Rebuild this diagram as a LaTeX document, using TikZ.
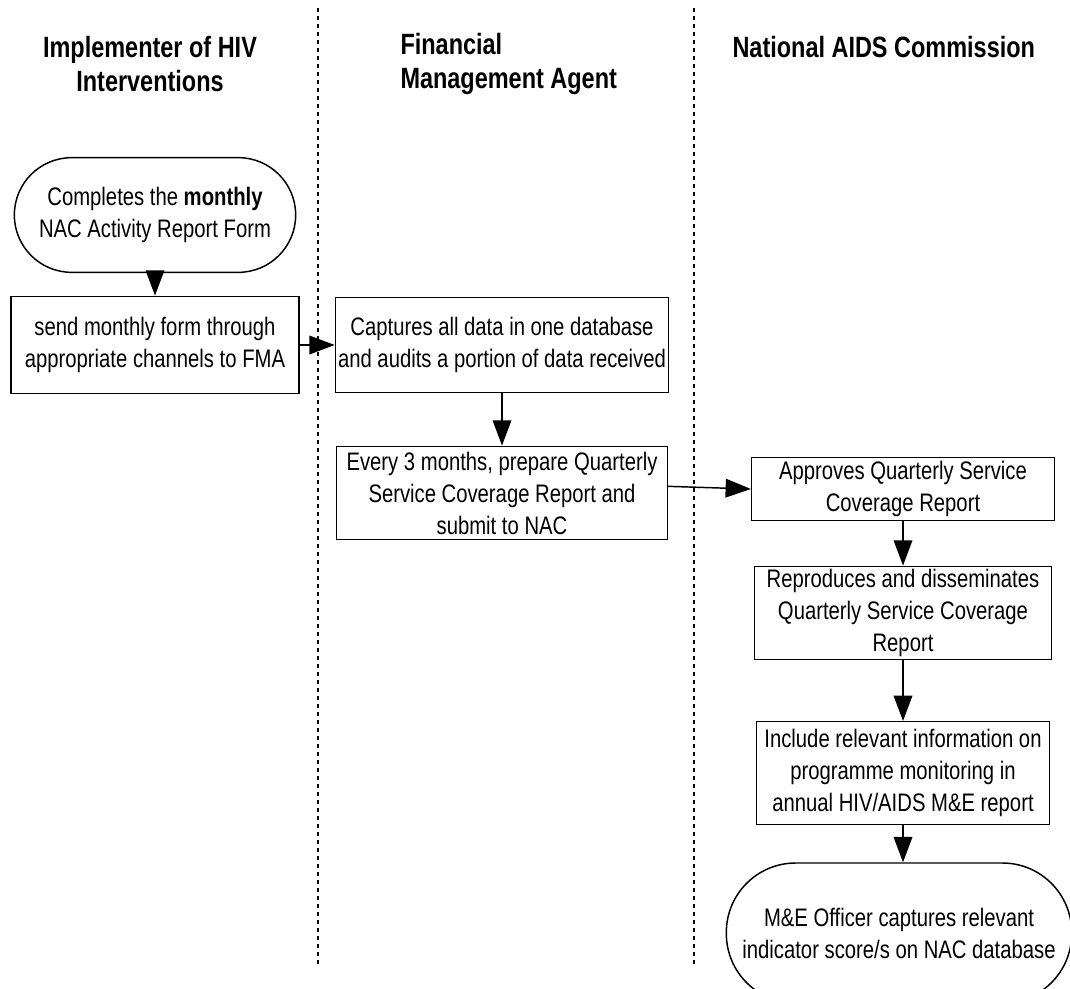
\documentclass[tikz,border=0pt]{standalone}
\usepackage{fontspec}
\setmainfont{Liberation Sans}[FakeStretch=0.8]
\usetikzlibrary{arrows.meta}

\tikzset{every picture/.style={line width=0.75pt}}
\tikzset{
  stepbox/.style={draw, line width=1.1pt, align=center, inner sep=2pt, font=\fontsize{19}{24}\selectfont},
  endbox/.style={stepbox, rounded corners=#1},
  lane/.style={font=\bfseries\fontsize{22}{26}\selectfont, inner sep=0pt},
  flow/.style={line width=1.1pt, -{Triangle[length=19pt,width=14pt]}},
  divider/.style={line width=0.9pt, dash pattern=on 3pt off 3pt}
}

\begin{document}
\begin{tikzpicture}[x=0.75pt,y=0.75pt,yscale=-1,xscale=1]
\useasboundingbox (0,0) rectangle (1070,988);

% lane dividers
\draw [divider] (318,8) -- (318,965);
\draw [divider] (694,8) -- (694,965);

% lane headings
\node [lane, align=center] (impl) at (150,64) {Implementer of HIV\\Interventions};
\node [lane, align=left, anchor=west] (fma) at (400,64) {Financial\\Management Agent};
\node [lane, anchor=west] (nac) at (732,47) {National AIDS Commission};

% implementer
\node [endbox=43pt, minimum width=211pt, minimum height=86pt] (start) at (155,215) {Completes the \textbf{monthly}\\NAC Activity Report Form};
\node [stepbox, minimum width=216pt, minimum height=73pt] (send) at (155,345) {send monthly form through\\appropriate channels to FMA};

% financial management agent
\node [stepbox, minimum width=249pt, minimum height=71pt] (capture) at (502,345) {Captures all data in one database\\and audits a portion of data received};
\node [stepbox, minimum width=248pt, minimum height=70pt] (quarter) at (502,493) {Every 3 months, prepare Quarterly\\Service Coverage Report and\\submit to NAC};

% national aids commission
\node [stepbox, minimum width=227pt, minimum height=47pt] (approve) at (903,489) {Approves Quarterly Service\\Coverage Report};
\node [stepbox, minimum width=223pt, minimum height=70pt] (reproduce) at (903,613) {Reproduces and disseminates\\Quarterly Service Coverage\\Report};
\node [stepbox, minimum width=220pt, minimum height=77pt] (include) at (903,773) {Include relevant information on\\programme monitoring in\\annual HIV/AIDS M\&E report};
\node [endbox=52pt, minimum width=259pt, minimum height=105pt] (finish) at (899,933) {M\&E Officer captures relevant\\indicator score/s on NAC database};

% connectors
\draw [flow] (start) -- (send);
\draw [flow] (send) -- (capture);
\draw [flow] (capture) -- (quarter);
\draw [flow] ([yshift=-5pt]quarter.east) -- (approve.west);
\draw [flow] (approve) -- (reproduce);
\draw [flow] (reproduce) -- (include);
\draw [flow] (include.south) -- (include.south |- finish.north);

\end{tikzpicture}
\end{document}
